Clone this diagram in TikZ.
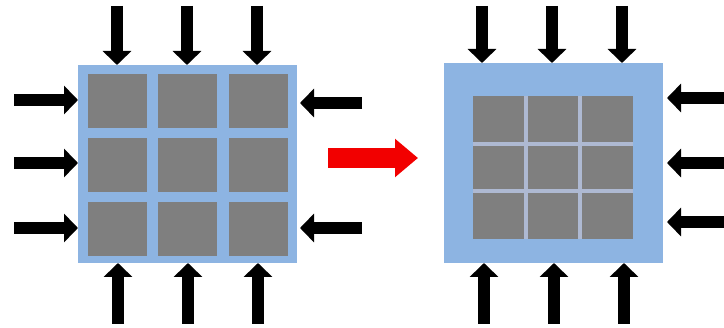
\documentclass[tikz,border=0pt]{standalone}
\usetikzlibrary{arrows.meta}
\definecolor{chipblue}{HTML}{8DB4E2}
\definecolor{cellgray}{HTML}{7F7F7F}
\definecolor{gridline}{HTML}{AEB9D2}
\tikzset{
  blk/.style={line width=12.5pt, -{Triangle[width=28pt,length=14pt]}, black},
  redarr/.style={line width=20pt, -{Triangle[width=37pt,length=23pt]}, red!95!black},
  chip/.style={fill=chipblue, draw=none, anchor=north west, inner sep=0pt, outer sep=0pt},
  cellbox/.style={fill=cellgray, draw=none, anchor=north west, inner sep=0pt, outer sep=0pt},
  gline/.style={draw=gridline, line width=4pt}
}
\begin{document}
\begin{tikzpicture}[x=1pt,y=-1pt]
\useasboundingbox (0,0) rectangle (724,328);
% left chip
\node[chip, minimum width=219pt, minimum height=198pt] (L) at (78,65) {};
\foreach \cx [count=\i] in {88,158,229}{
  \foreach \cy [count=\j] in {74,138,202}{
    \node[cellbox, minimum width=59pt, minimum height=54pt] (L\i\j) at (\cx,\cy) {};
  }
}
% right chip
\node[chip, minimum width=219pt, minimum height=200pt] (R) at (444,63) {};
\node[cellbox, minimum width=160pt, minimum height=143pt] (G) at (473,96) {};
\draw[gline] (G.north west) ++(52.5,0) coordinate (v1a) -- (v1a |- G.south);
\draw[gline] (G.north west) ++(107,0) coordinate (v2a) -- (v2a |- G.south);
\draw[gline] (G.north west) ++(0,48) coordinate (h1a) -- (h1a -| G.east);
\draw[gline] (G.north west) ++(0,95) coordinate (h2a) -- (h2a -| G.east);
% left chip arrows
\foreach \ax in {117,187,257}{
  \coordinate (ts\ax) at (\ax,6);
  \draw[blk] (ts\ax) -- (ts\ax |- L.north);
  \coordinate (bs\ax) at (\ax+1,324);
  \draw[blk] (bs\ax) -- (bs\ax |- L.south);
}
\foreach \ay in {100,163,228}{
  \coordinate (ls\ay) at (14,\ay);
  \draw[blk] (ls\ay) -- (ls\ay -| L.west);
}
\foreach \ay in {103,228}{
  \coordinate (rs\ay) at (362,\ay);
  \coordinate (re\ay) at (300,\ay);
  \draw[blk] (rs\ay) -- (re\ay);
}
% right chip arrows
\foreach \ax in {482,552,622}{
  \coordinate (rt\ax) at (\ax,6);
  \draw[blk] (rt\ax) -- (rt\ax |- R.north);
  \coordinate (rb\ax) at (\ax+2,324);
  \draw[blk] (rb\ax) -- (rb\ax |- R.south);
}
\foreach \ay in {98,163,222}{
  \coordinate (rr\ay) at (724,\ay);
  \coordinate (rre\ay) at (667,\ay);
  \draw[blk] (rr\ay) -- (rre\ay);
}
% red arrow
\coordinate (ra) at (328,158);
\coordinate (rb) at (418,158);
\draw[redarr] (ra) -- (rb);
\end{tikzpicture}
\end{document}
